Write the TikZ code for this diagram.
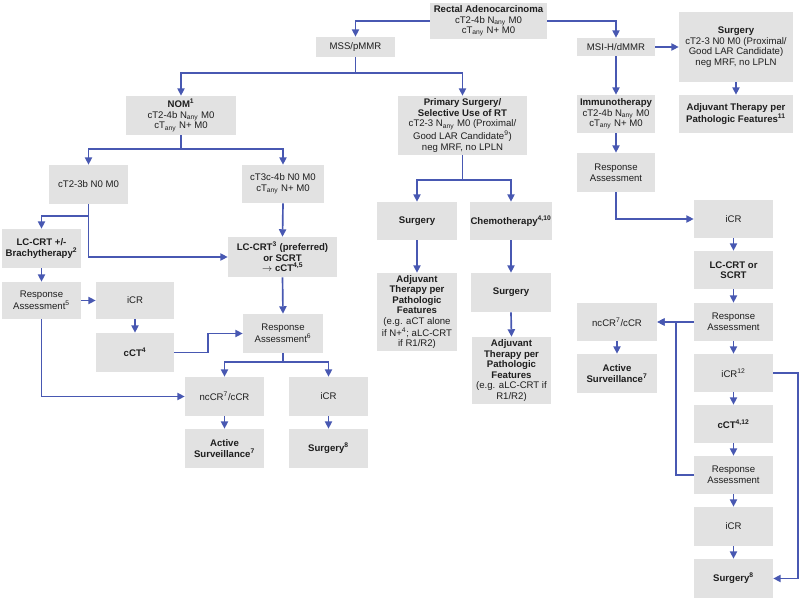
\documentclass[tikz,border=0pt]{standalone}
\usepackage{fontspec}
\setmainfont{Liberation Sans}
\usetikzlibrary{arrows.meta}
\definecolor{boxgray}{RGB}{226,226,226}
\definecolor{lineblue}{RGB}{72,88,178}
\definecolor{txt}{RGB}{30,30,30}
\tikzset{
  box/.style={fill=boxgray, draw=none, inner sep=0pt, align=center, text=txt,
    font=\fontsize{7.2}{7.9}\selectfont},
  conn/.style={draw=lineblue, line width=1.25pt},
  arr/.style={conn, -{Triangle[length=5.6pt,width=5.4pt]}}
}
\newcommand\bx[7][]{\node[box,minimum width={(#5-#3)*0.75pt},minimum height={(#6-#4)*0.75pt},#1] (#2) at ({(#3+#5)/2},{(#4+#6)/2}) {#7};}
\newcommand\sub[1]{\textsubscript{#1}}
\newcommand\sups[1]{\textsuperscript{#1}}
\begin{document}
\begin{tikzpicture}[x=0.75pt,y=-0.75pt]
\useasboundingbox[fill=white] (0,0) rectangle (800,599);
% top
\bx{rect}{430}{3}{547}{39}{\textbf{Rectal Adenocarcinoma}\\cT2-4b N\sub{any} M0\\cT\sub{any} N+ M0}
\bx{mss}{316}{37}{395}{57}{MSS/pMMR}
\bx{msi}{577}{38}{655}{56}{MSI-H/dMMR}
\bx{surgR}{679}{12}{793}{82}{\textbf{Surgery}\\cT2-3 N0 M0 (Proximal/\\Good LAR Candidate)\\neg MRF, no LPLN}
\bx{adjR}{679}{95}{793}{133}{\textbf{Adjuvant Therapy per}\\\textbf{Pathologic Features\sups{11}}}
% MSI column
\bx{immuno}{577}{95}{655}{133}{\textbf{Immunotherapy}\\cT2-4b N\sub{any} M0\\cT\sub{any} N+ M0}
\bx{raA}{577}{153}{655}{192}{Response\\Assessment}
\bx{icrA}{694}{200}{773}{238}{iCR}
\bx{lcsc}{694}{251}{773}{289}{\textbf{LC-CRT or}\\\textbf{SCRT}}
\bx{raB}{694}{303}{773}{341}{Response\\Assessment}
\bx{nccrR}{577}{303}{657}{341}{ncCR\sups{7}/cCR}
\bx{actR}{577}{354}{657}{393}{\textbf{Active}\\\textbf{Surveillance\sups{7}}}
\bx{icrB}{694}{354}{773}{392}{iCR\sups{12}}
\bx{cctB}{694}{405}{773}{443}{\textbf{cCT\sups{4,12}}}
\bx{raC}{694}{456}{773}{494}{Response\\Assessment}
\bx{icrC}{694}{507}{773}{546}{iCR}
\bx{surgB}{694}{559}{773}{598}{\textbf{Surgery\sups{8}}}
% MSS branch
\bx{nom}{126}{96}{236}{135}{\textbf{NOM\sups{1}}\\cT2-4b N\sub{any} M0\\cT\sub{any} N+ M0}
\bx{prim}{398}{96}{527}{155}{\textbf{Primary Surgery/}\\\textbf{Selective Use of RT}\\cT2-3 N\sub{any} M0 (Proximal/\\Good LAR Candidate\sups{9})\\neg MRF, no LPLN}
\bx{surgM}{377}{202}{457}{240}{\textbf{Surgery}}
\bx{chemo}{470}{202}{552}{240}{\textbf{Chemotherapy\sups{4,10}}}
\bx{adjM}{377}{273}{457}{351}{\textbf{Adjuvant}\\\textbf{Therapy per}\\\textbf{Pathologic}\\\textbf{Features}\\(e.g. aCT alone\\if N+\sups{4}; aLC-CRT\\if R1/R2)}
\bx{surgC}{471}{273}{551}{312}{\textbf{Surgery}}
\bx{adjC}{472}{337}{551}{404}{\textbf{Adjuvant}\\\textbf{Therapy per}\\\textbf{Pathologic}\\\textbf{Features}\\(e.g. aLC-CRT if\\R1/R2)}
\bx{ctA}{49}{165}{128}{204}{cT2-3b N0 M0}
\bx{ctB}{242}{165}{324}{203}{cT3c-4b N0 M0\\cT\sub{any} N+ M0}
\bx{lcb}{2}{229}{81}{268}{\textbf{LC-CRT +/-}\\\textbf{Brachytherapy\sups{2}}}
\bx{lcpref}{228}{237}{337}{277}{\textbf{LC-CRT\sups{3} (preferred)}\\\textbf{or SCRT}\\\textbf{$\rightarrow$ cCT\sups{4,5}}}
\bx{raL}{2}{282}{81}{319}{Response\\Assessment\sups{5}}
\bx{icrL}{96}{282}{174}{319}{iCR}
\bx{cctL}{96}{333}{174}{372}{\textbf{cCT\sups{4}}}
\bx{raM}{243}{314}{323}{353}{Response\\Assessment\sups{6}}
\bx{nccrL}{185}{377}{264}{416}{ncCR\sups{7}/cCR}
\bx{icrM}{289}{377}{368}{416}{iCR}
\bx{actL}{185}{429}{264}{468}{\textbf{Active}\\\textbf{Surveillance\sups{7}}}
\bx{surgL}{289}{429}{368}{468}{\textbf{Surgery\sups{8}}}
% connectors: top
\draw[arr] (rect.west) -| (mss.north);
\draw[arr] (rect.east) -| (msi.north);
\draw[arr] (msi.east) -- (surgR.west);
\draw[arr] (surgR.south) -- (adjR.north);
% MSI column
\draw[arr] (msi.south) -- (immuno.north);
\draw[arr] (immuno.south) -- (raA.north);
\draw[arr] (raA.south) |- (icrA.west);
\draw[arr] (icrA.south) -- (lcsc.north);
\draw[arr] (lcsc.south) -- (raB.north);
\draw[arr] (raB.west) -- (nccrR.east);
\draw[arr] (raC.west) -- ++(-18,0) |- (nccrR.east);
\draw[arr] (nccrR.south) -- (actR.north);
\draw[arr] (raB.south) -- (icrB.north);
\draw[arr] (icrB.south) -- (cctB.north);
\draw[arr] (cctB.south) -- (raC.north);
\draw[arr] (raC.south) -- (icrC.north);
\draw[arr] (icrC.south) -- (surgB.north);
\draw[arr] (icrB.east) -- ++(25,0) |- (surgB.east);
% MSS branch
\coordinate (j1) at (mss.south |- 0,73);
\draw[conn] (mss.south) -- (j1);
\draw[arr] (j1) -| (nom.north);
\draw[arr] (j1) -| (prim.north);
\coordinate (j2) at (nom.south |- 0,149);
\draw[conn] (nom.south) -- (j2);
\draw[arr] (j2) -| (ctA.north);
\draw[arr] (j2) -| (ctB.north);
\coordinate (j3) at (prim.south |- 0,180);
\draw[conn] (prim.south) -- (j3);
\draw[arr] (j3) -| (surgM.north);
\draw[arr] (j3) -| (chemo.north);
\draw[arr] (surgM.south) -- (adjM.north);
\draw[arr] (chemo.south) -- (surgC.north);
\draw[arr] (surgC.south) -- (adjC.north);
% left part
\coordinate (j4) at (ctA.south |- 0,216);
\draw[conn] (ctA.south) -- (j4);
\draw[arr] (j4) -| (lcb.north);
\draw[arr] (j4) |- (lcpref.west);
\draw[arr] (ctB.south) -- (lcpref.north);
\draw[arr] (lcb.south) -- (raL.north);
\draw[arr] (raL.east) -- (icrL.west);
\draw[arr] (icrL.south) -- (cctL.north);
\draw[arr] (cctL.east) -- ++(34,0) |- (raM.west);
\draw[arr] (lcpref.south) -- (raM.north);
\coordinate (j5) at (raM.south |- 0,362);
\draw[conn] (raM.south) -- (j5);
\draw[arr] (j5) -| (nccrL.north);
\draw[arr] (j5) -| (icrM.north);
\draw[arr] (raL.south) |- (nccrL.west);
\draw[arr] (nccrL.south) -- (actL.north);
\draw[arr] (icrM.south) -- (surgL.north);
\end{tikzpicture}
\end{document}
